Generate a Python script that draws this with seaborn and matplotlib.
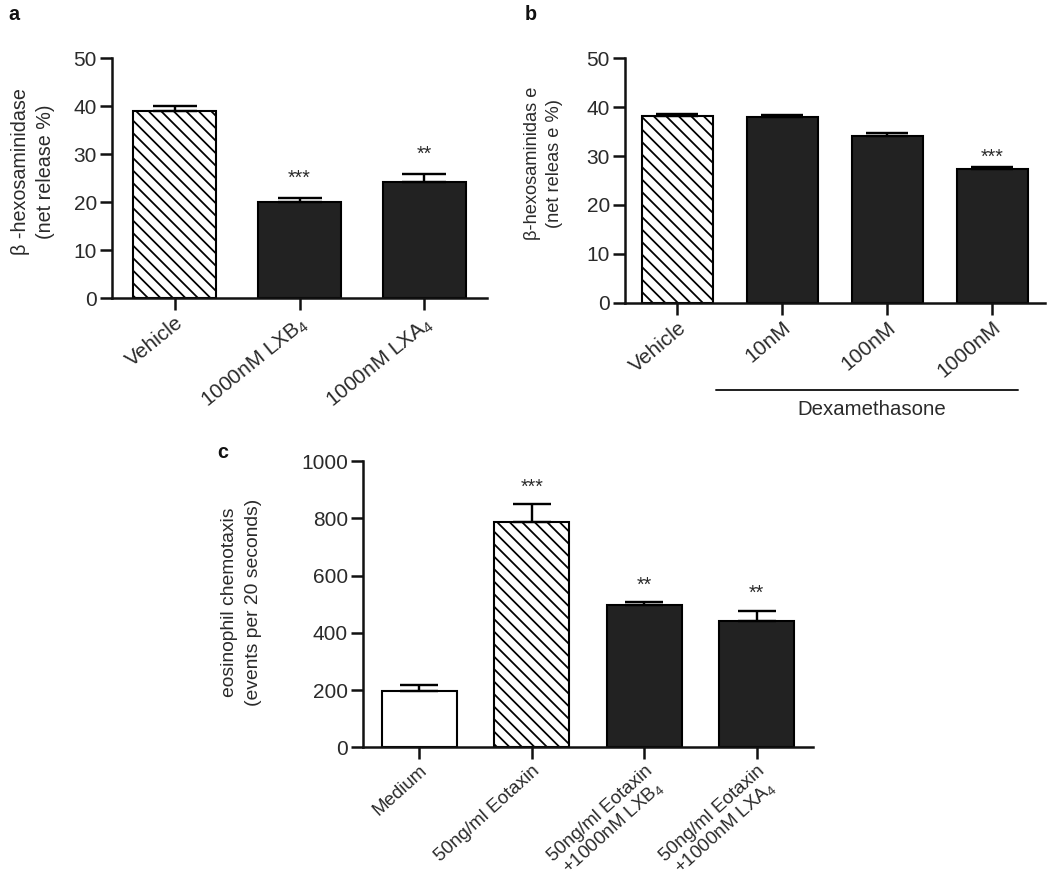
import numpy as np
import pandas as pd
import matplotlib
matplotlib.use("Agg")
import matplotlib.pyplot as plt
import matplotlib.transforms as mtransforms
import seaborn as sns

# ---------------- data ----------------
a_labels = ["Vehicle", "1000nM LXB$_4$", "1000nM LXA$_4$"]
a_means = [39.0, 20.0, 24.2]
a_sem = [1.0, 0.8, 1.6]
a_stars = ["", "***", "**"]

b_labels = ["Vehicle", "10nM", "100nM", "1000nM"]
b_means = [38.2, 38.0, 34.2, 27.3]
b_sem = [0.5, 0.4, 0.5, 0.5]
b_stars = ["", "", "", "***"]
b_group = "Dexamethasone"

c_labels = ["Medium", "50ng/ml Eotaxin",
            "50ng/ml Eotaxin\n+1000nM LXB$_4$",
            "50ng/ml Eotaxin\n+1000nM LXA$_4$"]
c_means = [198, 787, 496, 440]
c_sem = [20, 62, 10, 37]
c_stars = ["", "***", "**", "**"]

a_yticks = [0, 10, 20, 30, 40, 50]
b_yticks = [0, 10, 20, 30, 40, 50]
c_yticks = [0, 200, 400, 600, 800, 1000]

# ---------------- style ----------------
sns.set_style("ticks")
plt.rcParams["font.family"] = ["Liberation Sans", "DejaVu Sans"]
plt.rcParams["mathtext.fontset"] = "custom"
plt.rcParams["mathtext.rm"] = "Liberation Sans"
plt.rcParams["mathtext.default"] = "regular"
plt.rcParams["hatch.linewidth"] = 1.7
plt.rcParams["hatch.color"] = "black"

DARK = "#222222"
TXT = "#2a2a2a"
HATCH = "\\\\"

fig = plt.figure(figsize=(14, 11.92), dpi=75)
fig.patch.set_facecolor("white")

ax_a = fig.add_axes([0.1067, 0.6663, 0.3571, 0.2685])
ax_b = fig.add_axes([0.5952, 0.6614, 0.4000, 0.2734])
ax_c = fig.add_axes([0.3457, 0.1641, 0.4286, 0.3202])


def draw(ax, labels, means, sem, colors, hatches, stars, star_off, capsize,
         ymax, yticks, xfs, rot, lsp=1.2):
    df = pd.DataFrame({"label": labels, "value": means})
    pal = dict(zip(labels, colors))
    sns.barplot(data=df, x="label", y="value", hue="label", palette=pal,
                legend=False, width=0.67, edgecolor="black", linewidth=2.0,
                saturation=1, errorbar=None, ax=ax, zorder=2)
    for p, h in zip(ax.patches, hatches):
        p.set_hatch(h)
    x = np.arange(len(labels))
    ax.errorbar(x, means, yerr=[np.zeros(len(x)), sem], fmt="none",
                ecolor="black", elinewidth=2.3, capsize=capsize,
                capthick=2.3, zorder=3)
    for xi, m, s, st in zip(x, means, sem, stars):
        if st:
            ax.annotate(st, xy=(xi, m + s), xytext=(0, star_off),
                        textcoords="offset points", ha="center",
                        va="baseline", fontsize=19, color=TXT)
    ax.set_xlim(-0.5, len(labels) - 0.5)
    ax.set_ylim(0, ymax)
    ax.set_yticks(yticks)
    ax.set_xticks(x)
    ax.set_xticklabels(labels, rotation=rot, ha="right", va="top",
                       rotation_mode="anchor", fontsize=xfs,
                       multialignment="center", linespacing=lsp)
    ax.set_xlabel("")
    ax.set_ylabel("")
    sns.despine(ax=ax)
    for sp in ("left", "bottom"):
        ax.spines[sp].set_linewidth(2.4)
        ax.spines[sp].set_color("#111111")
    ax.tick_params(axis="both", length=11.5, width=2.4, color="#111111",
                   labelcolor=TXT)
    ax.tick_params(axis="y", labelsize=20, pad=3)
    ax.tick_params(axis="x", pad=3)


draw(ax_a, a_labels, a_means, a_sem, ["white", DARK, DARK],
     [HATCH, "", ""], a_stars, 14, 21, 50, a_yticks, 20, 39)
draw(ax_b, b_labels, b_means, b_sem, ["white", DARK, DARK, DARK],
     [HATCH, "", "", ""], b_stars, 4, 20, 50, b_yticks, 20, 40)
draw(ax_c, c_labels, c_means, c_sem, ["white", "white", DARK, DARK],
     ["", HATCH, "", ""], c_stars, 11, 18, 1000, c_yticks, 18, 42, 1.05)

# Dexamethasone group bracket under panel b
trans = mtransforms.blended_transform_factory(ax_b.transData, ax_b.transAxes)
x0, x1 = 1 - 0.63, 3 + 0.24
ax_b.plot([x0, x1], [-0.357, -0.357], transform=trans, clip_on=False,
          color="#222222", lw=1.9)
ax_b.text((x0 + x1) / 2 + 0.05, -0.437, b_group, transform=trans,
          ha="center", va="center", fontsize=19.5, color=TXT)

# y labels
fig.text(33 / 1050, 1 - 172 / 894, "β -hexosaminidase\n(net release %)",
         rotation=90, ha="center", va="center", fontsize=19,
         linespacing=1.45, color=TXT)
fig.text(543.5 / 1050, 1 - 163 / 894, "β-hexosaminidas e\n(net releas e %)",
         rotation=90, ha="center", va="center", fontsize=17.5,
         linespacing=1.4, color=TXT)
fig.text(241.5 / 1050, 1 - 602 / 894,
         "eosinophil chemotaxis\n(events per 20 seconds)",
         rotation=90, ha="center", va="center", fontsize=18.5,
         linespacing=1.6, color=TXT)

# panel letters
for lx, ly, s in [(8, 20, "a"), (525, 20, "b"), (217, 458, "c")]:
    fig.text(lx / 1050, 1 - ly / 894, s, fontsize=19, fontweight="bold",
             ha="left", va="baseline", color="#111111")

fig.savefig("out.png", dpi=75, facecolor="white")
